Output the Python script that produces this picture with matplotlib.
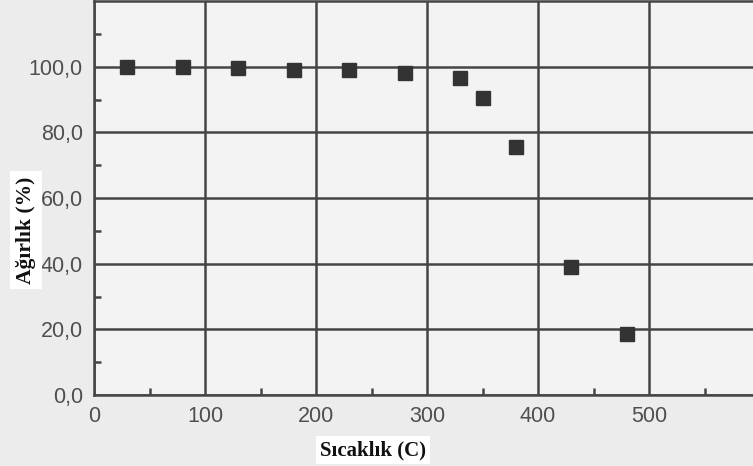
import matplotlib
matplotlib.use("Agg")
import matplotlib.pyplot as plt
from matplotlib.ticker import FixedLocator

temperature = [30, 80, 130, 180, 230, 280, 330, 350, 380, 430, 480]
weight = [100.0, 100.0, 99.5, 99.0, 99.0, 98.0, 96.5, 90.6, 75.5, 39.0, 18.5]
y_ticks = [0, 20, 40, 60, 80, 100]
y_tick_labels = ["0,0", "20,0", "40,0", "60,0", "80,0", "100,0"]
x_ticks = [0, 100, 200, 300, 400, 500]
x_tick_labels = ["0", "100", "200", "300", "400", "500"]

W, H = 753, 466
fig = plt.figure(figsize=(W / 100, H / 100), dpi=100)
fig.patch.set_facecolor("#ececec")
ax = fig.add_axes([94 / W, 1 - 395 / H, (760 - 94) / W, (395 - 1) / H])
ax.set_facecolor("#f3f3f3")
ax.set_xlim(0, 600)
ax.set_ylim(0, 120)

gridc = "#454545"
ax.set_xticks(x_ticks)
ax.set_xticklabels(x_tick_labels)
ax.set_yticks(y_ticks)
ax.set_yticklabels(y_tick_labels)
ax.xaxis.set_minor_locator(FixedLocator([50, 150, 250, 350, 450, 550]))
ax.yaxis.set_minor_locator(FixedLocator([10, 30, 50, 70, 90, 110]))
ax.grid(True, which="major", color=gridc, linewidth=1.8)
ax.tick_params(which="major", length=0, labelsize=15.5, labelcolor="#4f4f4f", pad=8)
ax.tick_params(which="minor", direction="in", length=5, width=1.8, color=gridc)
for lab in ax.get_xticklabels() + ax.get_yticklabels():
    lab.set_family("Liberation Sans")
for side in ["left", "bottom", "top"]:
    ax.spines[side].set_color(gridc)
    ax.spines[side].set_linewidth(1.8)
ax.spines["right"].set_visible(False)
ax.set_axisbelow(True)

ax.plot(temperature, weight, linestyle="none", marker="s", markersize=10.5,
        color="#333333", zorder=3, clip_on=False)

ax.set_xlabel("Sıcaklık (C)", family="Liberation Serif", fontsize=15,
              fontweight="bold", color="#111111",
              bbox=dict(facecolor="white", edgecolor="none", pad=3))
ax.xaxis.set_label_coords((373 - 94) / (760 - 94), -0.115)
ax.set_ylabel("Ağırlık (%)", family="Liberation Serif", fontsize=15.5,
              fontweight="bold", color="#111111",
              bbox=dict(facecolor="white", edgecolor="none", pad=4))
ax.yaxis.set_label_coords((36 - 94) / (760 - 94), (395 - 230) / 394)

fig.savefig("out.png", dpi=100, facecolor=fig.get_facecolor())
